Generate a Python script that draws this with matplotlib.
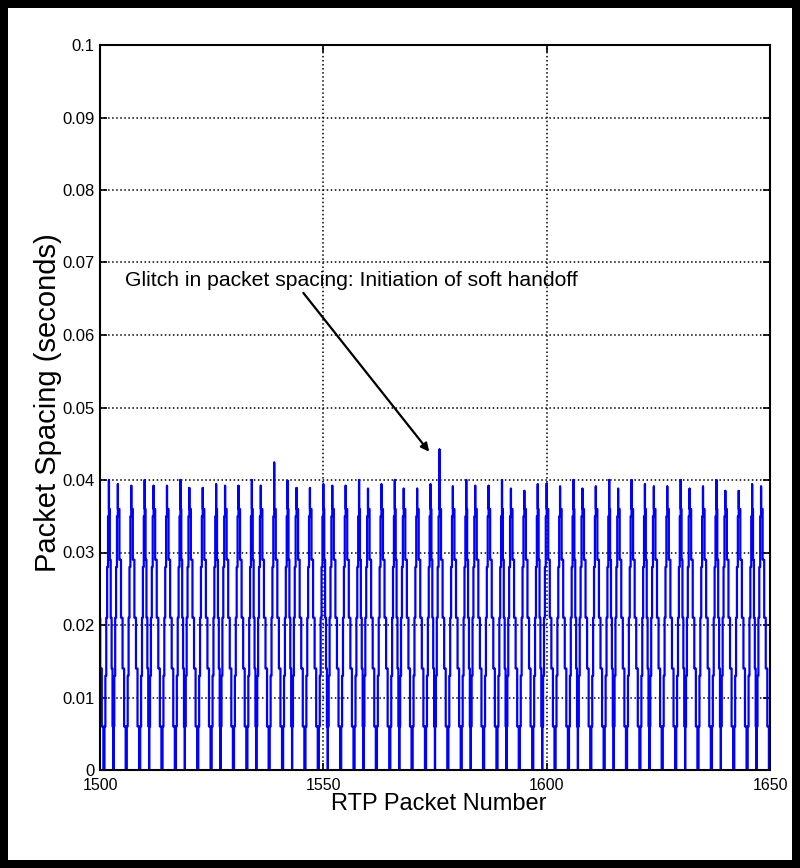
import matplotlib
matplotlib.use("Agg")
import matplotlib.pyplot as plt
from matplotlib.patches import Rectangle

plt.rcParams['font.family'] = ['Liberation Sans', 'DejaVu Sans']

# packet number of each spacing peak and its height (seconds)
peak_packet = [1499, 1502, 1504, 1507, 1510, 1512, 1515, 1518, 1520, 1523, 1526,
               1528, 1531, 1534, 1536, 1539, 1542, 1544, 1547, 1550, 1552,
               1555, 1558, 1560, 1563, 1566, 1568, 1571, 1574, 1576, 1579,
               1582, 1584, 1587, 1590, 1592, 1595, 1598, 1600, 1603, 1606,
               1608, 1611, 1614, 1616, 1619, 1622, 1624, 1627, 1630, 1632,
               1635, 1638, 1640, 1643, 1646, 1648, 1651]
peak_value = [0.0400, 0.0400, 0.0394, 0.0392, 0.0400, 0.0392, 0.0392, 0.0400, 0.0389, 0.0389, 0.0394,
              0.0392, 0.0392, 0.0400, 0.0392, 0.0424, 0.0399, 0.0389, 0.0389, 0.0394, 0.0392,
              0.0392, 0.0400, 0.0388, 0.0394, 0.0400, 0.0388, 0.0388, 0.0394, 0.0442, 0.0391,
              0.0400, 0.0392, 0.0392, 0.0400, 0.0388, 0.0385, 0.0394, 0.0395, 0.0391, 0.0400,
              0.0388, 0.0391, 0.0400, 0.0388, 0.0400, 0.0394, 0.0391, 0.0391, 0.0400, 0.0388,
              0.0391, 0.0400, 0.0385, 0.0385, 0.0394, 0.0391, 0.0400]

# intermediate levels of the staircases either side of a peak
fall_levels = [0.036, 0.029, 0.021, 0.014, 0.006]
rise_levels = [0.006, 0.013, 0.021, 0.028, 0.035]

x_ticks = [1500, 1550, 1600, 1650]
y_ticks = [0, 0.01, 0.02, 0.03, 0.04, 0.05, 0.06, 0.07, 0.08, 0.09, 0.1]
y_ticklabels = ['0', '0.01', '0.02', '0.03', '0.04', '0.05', '0.06', '0.07', '0.08', '0.09', '0.1']

# build the step trace
xs, ys = [], []
for i in range(len(peak_packet) - 1):
    p, h = peak_packet[i], peak_value[i]
    nxt, hn = peak_packet[i + 1], peak_value[i + 1]
    if i == 0:
        xs.append(p); ys.append(h)
    fall = 1.0 if nxt - p == 2 else 1.75
    d = fall / len(fall_levels)
    x = p
    for lv in fall_levels:
        xs += [x, x + d]; ys += [lv, lv]
        x += d
    xs.append(x); ys.append(0)
    start = nxt - 1.0
    xs.append(start); ys.append(0)
    d = 1.0 / len(rise_levels)
    x = start
    for lv in rise_levels:
        xs += [x, x + d]; ys += [lv, lv]
        x += d
    xs += [nxt, nxt]; ys += [lv, hn]

fig = plt.figure(figsize=(8, 8.68), dpi=100, facecolor='black')
fig.patches.append(Rectangle((8 / 800, 8 / 868), 784 / 800, 852 / 868,
                             transform=fig.transFigure, facecolor='white',
                             edgecolor='none', zorder=-5))
ax = fig.add_axes([100 / 800, 1 - 770 / 868, 670 / 800, 725 / 868])

ax.plot(xs, ys, color='#0000ff', linewidth=1.6, zorder=2)

ax.set_xlim(1500, 1650)
ax.set_ylim(0, 0.1)
ax.set_xticks(x_ticks)
ax.set_xticklabels([str(t) for t in x_ticks])
ax.set_yticks(y_ticks)
ax.set_yticklabels(y_ticklabels)
ax.tick_params(direction='in', top=True, right=True, length=5, width=1.2,
               labelsize=12, pad=4)
ax.tick_params(axis='x', pad=6, labelsize=11.5)
ax.set_axisbelow(True)
ax.grid(True, color='black', linestyle=':', linewidth=1.1)
for s in ax.spines.values():
    s.set_linewidth(1.5)

ax.set_xlabel('RTP Packet Number', fontsize=17)
ax.xaxis.set_label_coords(0.506, -0.032)
ax.set_ylabel('Packet Spacing (seconds)', fontsize=21)
ax.yaxis.set_label_coords(-0.057, 0.507)

ax.annotate('Glitch in packet spacing: Initiation of soft handoff',
            xy=(1573.7, 0.0439), xytext=(1505.5, 0.0675),
            fontsize=15.2, va='center', ha='left',
            arrowprops=dict(arrowstyle='-|>', color='black', lw=1.6,
                            mutation_scale=12, shrinkA=0, shrinkB=0,
                            relpos=(0.39, 0.0)))

fig.savefig('out.png', dpi=100, facecolor=fig.get_facecolor())
